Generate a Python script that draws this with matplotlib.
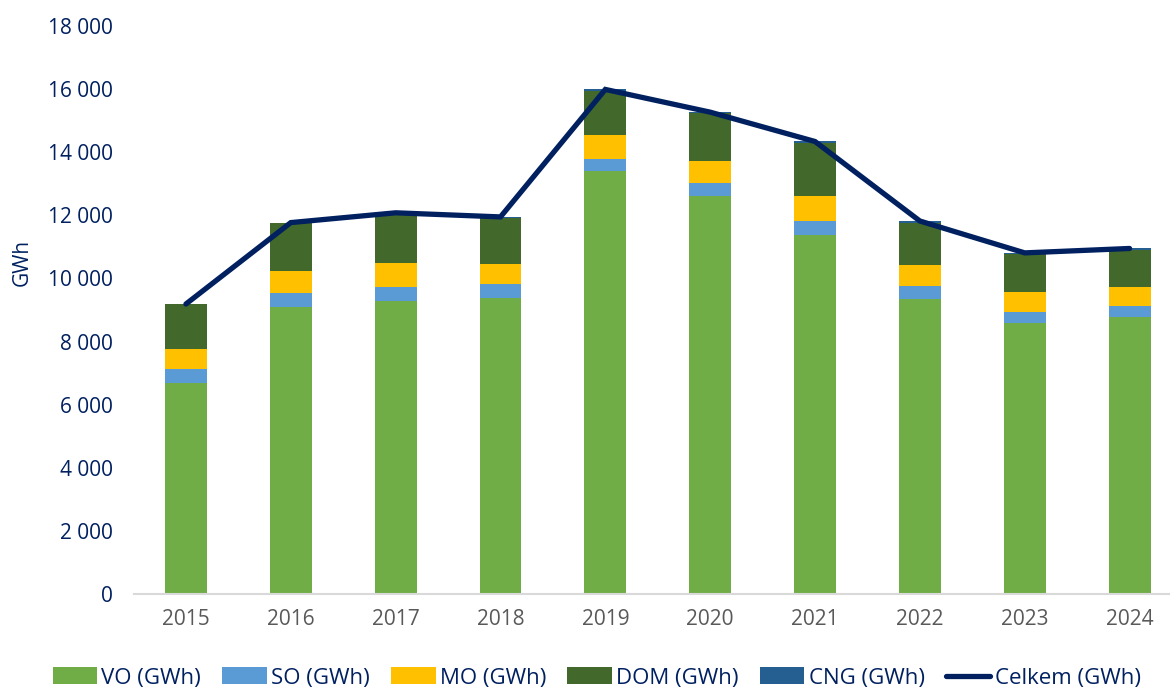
import numpy as np
import matplotlib.pyplot as plt

years = ['2015', '2016', '2017', '2018', '2019', '2020', '2021', '2022', '2023', '2024']
vo = [6700, 9080, 9290, 9380, 13390, 12600, 11370, 9360, 8600, 8780]
so = [420, 470, 450, 430, 410, 430, 460, 390, 350, 350]
mo = [630, 680, 740, 650, 740, 700, 780, 670, 610, 610]
dom = [1430, 1520, 1580, 1440, 1410, 1500, 1670, 1350, 1200, 1160]
cng = [10, 20, 20, 50, 40, 40, 60, 50, 50, 50]
celkem = [9190, 11770, 12080, 11950, 15990, 15270, 14340, 11820, 10810, 10950]

navy = '#002060'
plt.rcParams['font.family'] = ['Open Sans', 'DejaVu Sans']

fig = plt.figure(figsize=(11.7, 6.89), dpi=100)
# axes run a little past the right edge, as in the reference crop
ax = fig.add_axes([133.5/1170, 95/689, (1182-133.5)/1170, 568/689])

x = np.arange(len(years))
w = 0.4
series = [(vo, '#70AD47', 'VO (GWh)'), (so, '#5B9BD5', 'SO (GWh)'),
          (mo, '#FFC000', 'MO (GWh)'), (dom, '#43682B', 'DOM (GWh)'),
          (cng, '#255E91', 'CNG (GWh)')]
handles = []
bottom = np.zeros(len(years))
for vals, col, lab in series:
    b = ax.bar(x, vals, w, bottom=bottom, color=col, label=lab, zorder=2)
    handles.append(b)
    bottom += np.array(vals)

ln, = ax.plot(x, celkem, color=navy, lw=3.8, label='Celkem (GWh)', zorder=3,
              solid_capstyle='round', solid_joinstyle='miter')
handles.append(ln)

ax.set_xlim(-0.5, len(years) - 0.5)
ax.set_ylim(0, 18000)
ax.set_yticks(range(0, 18001, 2000))
ax.set_yticklabels([f'{v:,}'.replace(',', ' ') for v in range(0, 18001, 2000)])
ax.set_xticks(x)
ax.set_xticklabels(years)

for s in ['top', 'right', 'left']:
    ax.spines[s].set_visible(False)
ax.spines['bottom'].set_color('#D9D9D9')
ax.spines['bottom'].set_linewidth(1.5)
ax.tick_params(axis='y', length=0, labelsize=15, labelcolor=navy, pad=15)
ax.tick_params(axis='x', length=0, labelsize=15, labelcolor='#595959', pad=11)

fig.text(22/1170, 1 - 262/689, 'GWh', rotation=90, ha='center', va='center',
         fontsize=15, color=navy)

leg = fig.legend(handles=handles, loc='center', bbox_to_anchor=(0.51, 1 - 678/689),
                 ncol=6, frameon=False, fontsize=16, handlelength=2.0,
                 handleheight=0.8, columnspacing=0.95, handletextpad=0.2)
for t in leg.get_texts():
    t.set_color(navy)

fig.savefig('out.png', dpi=100)
